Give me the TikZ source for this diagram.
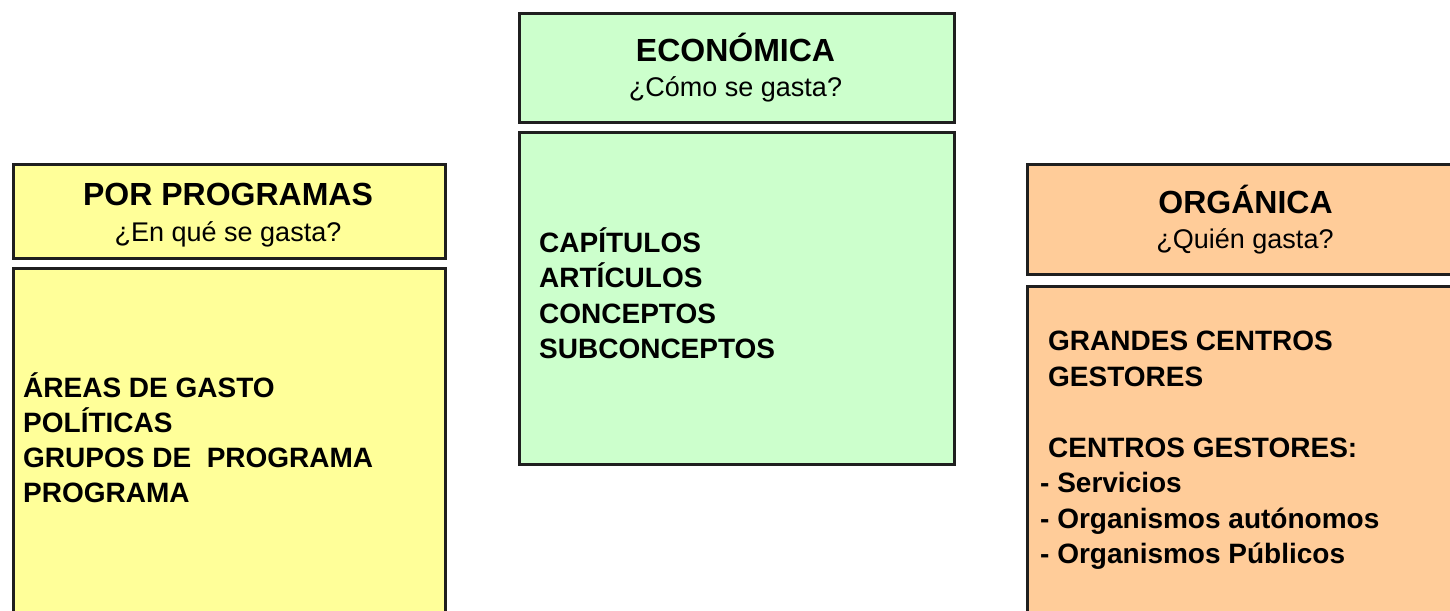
\documentclass[tikz,border=0pt]{standalone}
\usepackage{fontspec}
\setmainfont{Liberation Sans}
\definecolor{cyellow}{RGB}{255,255,153}
\definecolor{cgreen}{RGB}{204,255,204}
\definecolor{corange}{RGB}{255,204,153}
\tikzset{
  box/.style={draw=black!88, line width=2.6pt, rectangle, inner sep=0pt, anchor=north west},
  ttl/.style={anchor=base, inner sep=0pt, font=\bfseries\fontsize{32}{38}\selectfont},
  sub/.style={anchor=base, inner sep=0pt, font=\fontsize{27}{32}\selectfont},
  item/.style={anchor=base west, inner sep=0pt, font=\bfseries\fontsize{28}{34}\selectfont}
}
\begin{document}
\begin{tikzpicture}[x=1pt,y=-1pt]
\useasboundingbox (0,0) rectangle (1450,610);
\clip (0,0) rectangle (1450,610);
% boxes
\node[box, fill=cyellow, minimum width=432pt, minimum height=94pt] (lh) at (12,163) {};
\node[box, fill=cyellow, minimum width=432pt, minimum height=400pt] (lb) at (12,267) {};
\node[box, fill=cgreen, minimum width=435pt, minimum height=109pt] (mh) at (518,12) {};
\node[box, fill=cgreen, minimum width=435pt, minimum height=332pt] (mb) at (518,131) {};
\node[box, fill=corange, minimum width=440pt, minimum height=110pt] (rh) at (1026,163) {};
\node[box, fill=corange, minimum width=440pt, minimum height=400pt] (rb) at (1026,285) {};
% left texts
\node[ttl] (lt) at (228,205) {POR PROGRAMAS};
\node[sub] (ls) at (228,241) {¿En qué se gasta?};
\node[item] (l1) at (23,397) {ÁREAS DE GASTO};
\node[item] (l2) at (23,432) {POLÍTICAS};
\node[item] (l3) at (23,467.5) {GRUPOS DE\ \ PROGRAMA};
\node[item] (l4) at (23,502.5) {PROGRAMA};
% middle texts
\node[ttl] (mt) at (735.5,62) {ECONÓMICA};
\node[sub] (ms) at (735.5,96) {¿Cómo se gasta?};
\node[item] (m1) at (539,252) {CAPÍTULOS};
\node[item] (m2) at (539,287) {ARTÍCULOS};
\node[item] (m3) at (539,323) {CONCEPTOS};
\node[item] (m4) at (539,358) {SUBCONCEPTOS};
% right texts
\node[ttl] (rt) at (1245.5,213) {ORGÁNICA};
\node[sub] (rs) at (1245,248) {¿Quién gasta?};
\node[item] (r1) at (1048,350) {GRANDES CENTROS};
\node[item] (r2) at (1048,386.5) {GESTORES};
\node[item] (r3) at (1048,457) {CENTROS GESTORES:};
\node[item] (r4) at (1040,492) {- Servicios};
\node[item] (r5) at (1040,528) {- Organismos autónomos};
\node[item] (r6) at (1040,563) {- Organismos Públicos};
\end{tikzpicture}
\end{document}
